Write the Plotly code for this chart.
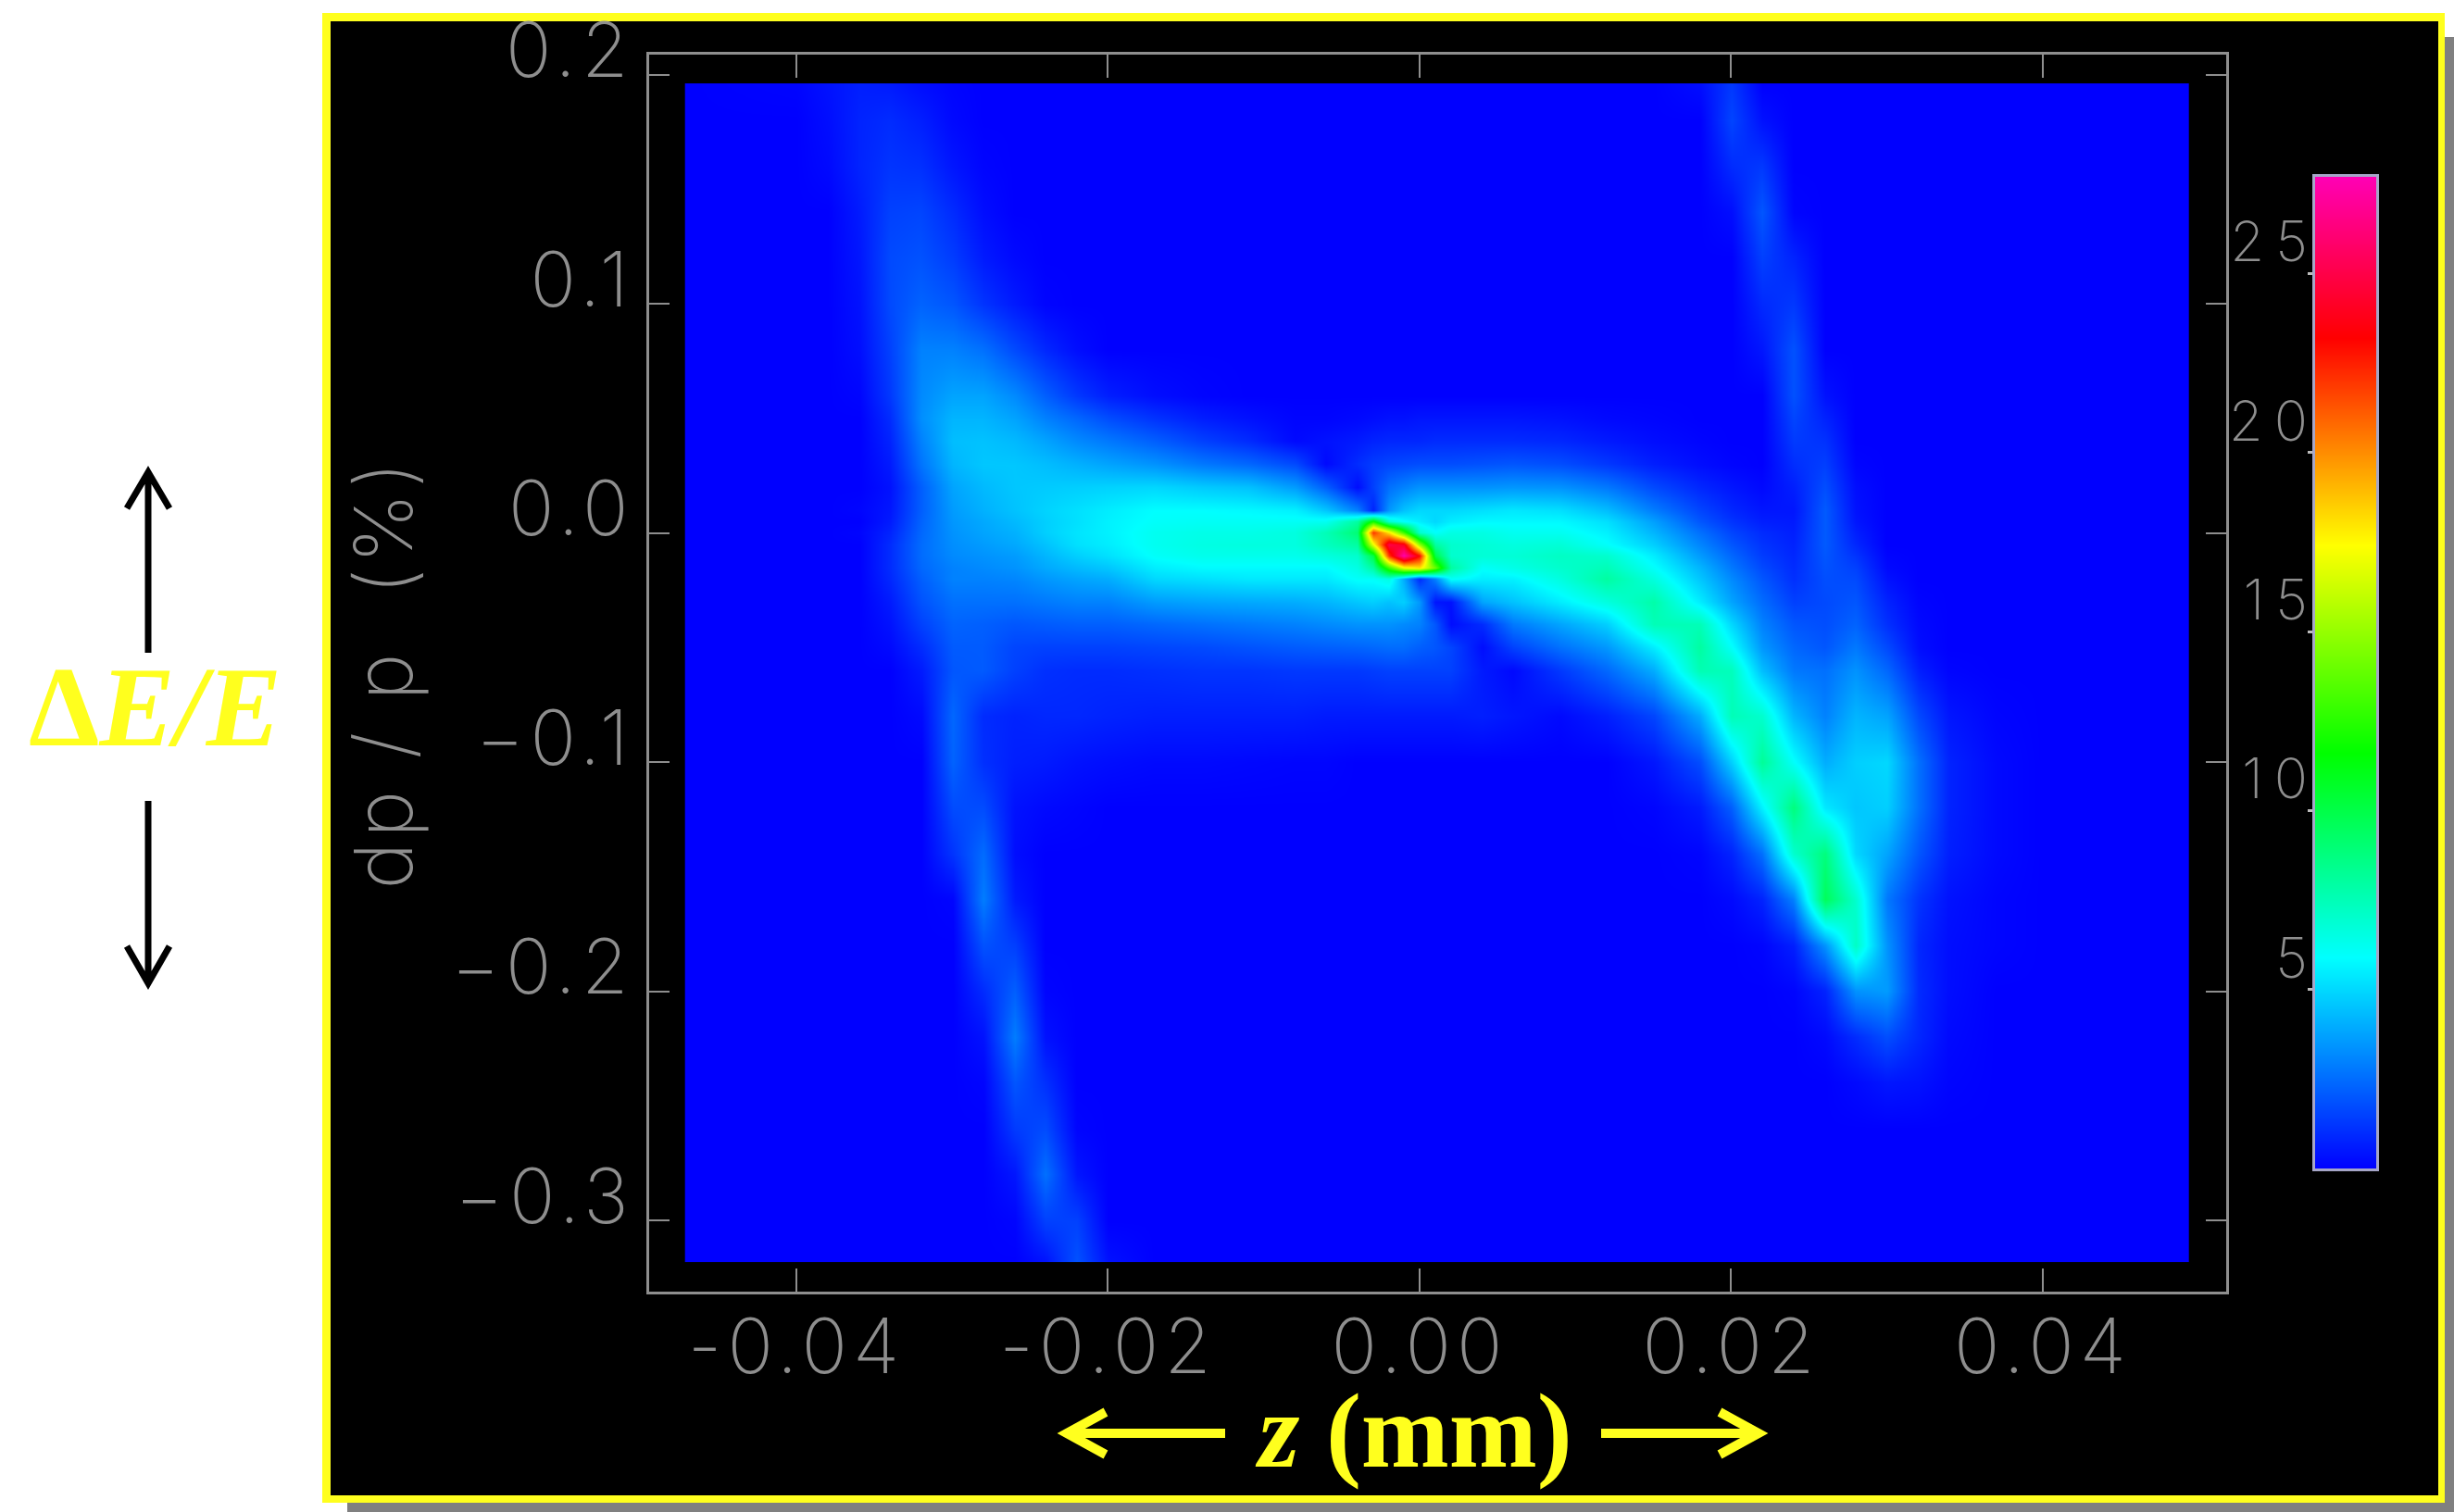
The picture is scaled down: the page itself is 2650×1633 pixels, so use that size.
import plotly.graph_objects as go

W, H = 2650, 1633

# z (mm) of each grid column, dp/p (%) of each grid row: both
Z_MM = [-0.0471, -0.047, -0.040, -0.038, -0.036, -0.034, -0.032, -0.030, -0.028, -0.026, -0.024, -0.022, -0.020,
        -0.017, -0.014, -0.011, -0.008, -0.006, -0.004, -0.003, -0.002, -0.001, 0.0, 0.001, 0.002,
        0.004, 0.006, 0.009, 0.012, 0.015, 0.018, 0.020, 0.022, 0.024, 0.026, 0.028, 0.030, 0.032,
        0.034, 0.037, 0.040, 0.0492, 0.0493]
DP = [0.1961, 0.196, 0.18, 0.16, 0.14, 0.12, 0.10, 0.08, 0.06, 0.05, 0.04, 0.03, 0.02, 0.01, 0.005, 0.0,
      -0.005, -0.01, -0.015, -0.02, -0.03, -0.04, -0.05, -0.06, -0.08, -0.10, -0.12, -0.14,
      -0.16, -0.18, -0.20, -0.22, -0.24, -0.26, -0.28, -0.30, -0.318, -0.3181]

# density estimates by row; {first column index: values} and everything else is 0
R_TOP = {1: [.1, .4, .7, .6, .3, .1], 29: [.3, 1.3]}
R_BOTTOM = {9: [.4, 1.9, .4]}
DENSITY_ROWS = [
    R_TOP,
    R_TOP,
    {2: [.3, .8, 1, .7, .2], 30: [1.6, .4]},
    {2: [.2, .8, 1.2, 1.1, .5, .1], 30: [1, 1.3]},
    {3: [.6, 1.5, 1.6, 1, .3], 30: [.3, 2, .1]},
    {3: [.5, 1.7, 1.9, 1.4, .6, .2], 31: [1.5, .8]},
    {3: [.4, 1.7, 2.3, 2, 1.2, .6, .1], 31: [.95, 1.3]},
    {3: [.3, 1.5, 3, 3, 2.6, 1.7, .9, .3], 31: [.5, 1.9]},
    {3: [.1, 1.3, 3.2, 3.8, 3.8, 3.2, 2.2, 1.3, .7, .3, .1], 32: [1.9, .4]},
    {4: [1, 3.3, 4.2, 4.2, 3.8, 3, 2.4, 1.8, 1.2, .7, .4, .1, .1, .2, .3, .4, .4, .5, .5, .5, .5, .5, .4, .2, .1], 32: [1.6, .8]},
    {4: [.8, 3, 4.4, 4.5, 4.3, 3.8, 3.2, 2.8, 2.2, 1.5, 1, .2, .4, .6, .8, .9, .9, .9, 1, 1, 1, 1, .9, .6, .3, .1], 32: [1.35, 1.15]},
    {4: [.6, 2.7, 4.2, 4.6, 4.6, 4.4, 4.1, 3.8, 3.4, 2.8, 2.4, 1.7, .2, 1, 1.4, 1.6, 1.7, 1.8, 1.8, 1.8, 1.9, 2, 1.8, 1.3, .7, .3, .1], 32: [1.05, 1.45, .1]},
    {4: [.4, 2.2, 3.8, 4.3, 4.6, 4.7, 4.8, 4.9, 5, 4.7, 4.5, 3.6, 2.2, .3, 1.5, 2.6, 3, 3.4, 3.4, 3.4, 3.4, 3.5, 3.4, 2.8, 1.7, .9, .5, .2, .7, 1.8, .3]},
    {3: [.1, .5, 2.2, 3.6, 4.1, 4.5, 4.9, 5.2, 5.5, 5.9, 5.9, 5.8, 5.6, 4.6, 3, .8, 3.5, 4.5, 5, 5, 5, 5.2, 5.4, 5.2, 4.4, 2.9, 1.6, .9, .5, .5, 2.1, .4]},
    {4: [.6, 2.3, 3.5, 3.9, 4.3, 4.8, 5.2, 5.6, 6, 6.1, 6.1, 6.1, 6.2, 8, 12, 7, 6, 5.5, 5, 5.5, 5.8, 5.8, 5.8, 5.2, 3.7, 2, 1.2, .7, .6, 2.1, .5]},
    {3: [.1, .8, 2.4, 3.4, 3.8, 4.1, 4.8, 5.3, 5.6, 6.2, 6.4, 6.4, 6.6, 7.5, 9, 22, 18, 13, 7, 6, 6.5, 6.5, 6.2, 6.2, 5.6, 4.2, 2.6, 1.6, 1, .7, 2.1, .7]},
    {4: [1, 2.5, 3.3, 3.6, 3.9, 4.5, 5.2, 5.5, 6.2, 6.5, 6.6, 6.6, 7.3, 8, 17, 25, 24, 15, 8, 7, 6.8, 6.6, 6.8, 6, 4.8, 3.1, 2, 1.2, .8, 2.1, .9]},
    {4: [1, 2.5, 3.2, 3.4, 3.6, 4.2, 4.8, 5.2, 6, 6.3, 6.3, 6.3, 6.6, 7, 10, 22, 27.5, 23, 10, 7, 6.8, 6.8, 7.2, 7, 5.5, 3.6, 2.4, 1.4, .9, 2, 1.2, .1]},
    {4: [1, 2.4, 3, 3.2, 3.4, 3.9, 4.3, 4.6, 5.5, 5.8, 5.8, 5.8, 5.8, 6.5, 8, 13, 17, 18, 14, 8, 6, 6.4, 7, 7.5, 6, 4.2, 2.8, 1.7, 1, 1.9, 1.5, .2]},
    {4: [.9, 2.2, 3, 3, 3.1, 3.5, 3.8, 4, 5, 5.2, 5.4, 5.4, 5.4, 6, 6, 6.5, 4, 1, 3, 6, 5.5, 5.6, 6.6, 8, 6.6, 4.6, 3.2, 2, 1.1, 1.8, 1.7, .4]},
    {4: [.6, 1.9, 2.6, 2.6, 2.6, 2.8, 3, 3, 3.6, 3.8, 3.9, 4, 4.2, 4.6, 4.8, 4.5, 4.8, 3.5, .5, .4, 3.8, 4.5, 5.5, 6.6, 7.8, 5.5, 3.8, 2.5, 1.5, 1.7, 2, .8, .1]},
    {4: [.4, 1.5, 2.3, 2.2, 2, 2.1, 2.2, 2.2, 2.4, 2.6, 2.8, 3, 3.2, 3.4, 3.4, 3.4, 3.2, 3, 2, .3, 1, 2.8, 3.8, 4.8, 7.5, 7.5, 5, 3, 2, 1.8, 2.3, 1.1, .2]},
    {4: [.2, 1, 2.1, 2.1, 1.6, 1.5, 1.5, 1.5, 1.6, 1.7, 1.9, 2.1, 2.2, 2.3, 2.4, 2.5, 2.5, 2.2, 2, 1.6, .3, 1.5, 2.6, 3.5, 5.5, 8, 6, 3.5, 2.4, 2, 2.8, 1.7, .3]},
    {5: [.6, 2, 2.1, 1.5, 1.1, 1, 1, 1.1, 1.2, 1.2, 1.3, 1.3, 1.3, 1.4, 1.5, 1.5, 1.5, 1.5, 1.5, .6, .2, 1.3, 2.4, 4, 7.6, 7.4, 4.4, 2.8, 2.6, 3.4, 2.4, .7, .1]},
    {5: [.2, 2.4, 1, .8, .9, .9, .8, .7, .7, .7, .7, .6, .6, .6, .6, .6, .6, .6, .6, .7, .5, .2, .7, 1.6, 4, 7.5, 7, 4.2, 3, 4.2, 3.8, 1.7, .5, .1]},
    {6: [2.3, 1.1, .7, .6, .4, .3, .2, .2, .15, .1, .1], 28: [.5, 1.8, 4.8, 8.2, 6, 4, 4.8, 5, 2.6, .8, .2]},
    {6: [1.75, 1.75, .4, .2, .1], 28: [.1, .6, 2.2, 5.6, 8.8, 5.4, 4.6, 4.8, 2.6, .8, .2]},
    {6: [1.2, 2.5, .3], 29: [.1, .8, 2.6, 7, 8.8, 5, 3.8, 2, .7, .2]},
    {6: [.1, 2.9, .6], 30: [.2, .8, 3, 9.6, 7, 2.8, 1.2, .4, .1]},
    {7: [1.9, 1.45], 31: [.1, .7, 3.4, 7.2, 3.4, .9, .3, .1]},
    {7: [1, 2.2, .1], 32: [.1, .8, 3.4, 3.6, 1, .3]},
    {7: [.4, 2.9, .4], 33: [.2, 1, 1.8, .9, .2]},
    {7: [.1, 2, 1.1], 34: [.2, .5, .4, .1]},
    {8: [1.35, 1.75, .1]},
    {8: [.5, 2.6, .5]},
    {8: [.1, 1.5, 1.5]},
    R_BOTTOM,
    R_BOTTOM,
]

COLOR_LEVELS = [0, 5.9, 11.6, 17.4, 23.2, 27.7]
COLORS = ["#0000ff", "#00ffff", "#00ff00", "#ffff00", "#ff0000", "#ff00b4"]
X_TICKS = [-0.04, -0.02, 0.0, 0.02, 0.04]
X_LABELS = ["-0.04", "-0.02", "0.00", "0.02", "0.04"]
Y_TICKS = [0.2, 0.1, 0.0, -0.1, -0.2, -0.3]
Y_LABELS = ["0.2", "0.1", "0.0", "\u22120.1", "\u22120.2", "\u22120.3"]
BAR_TICKS = [5, 10, 15, 20, 25]

GREY = "#8e8e8e"
YEL = "#ffff1e"
FONT = "DejaVu Sans ExtraLight, Inter, Roboto, sans-serif"


def grid(rows, ncols):
    # +1: row indices were read with one leading edge column
    out = []
    for row in rows:
        vals = [0.0] * ncols
        for start, seg in row.items():
            for k, v in enumerate(seg):
                vals[start + 1 + k] = v
        out.append(vals)
    return out


def fx(x):
    return x / W


def fy(y):
    return 1 - y / H


scale = [[v / COLOR_LEVELS[-1], c] for v, c in zip(COLOR_LEVELS, COLORS)]
Z = grid(DENSITY_ROWS, len(Z_MM))

fig = go.Figure()
fig.add_trace(go.Heatmap(x=Z_MM, y=DP[::-1], z=Z[::-1], colorscale=scale, zmin=0, zmax=COLOR_LEVELS[-1],
                         zsmooth="best", showscale=False))
fig.add_trace(go.Heatmap(x=[0, 1], y=COLOR_LEVELS, z=[[v, v] for v in COLOR_LEVELS], colorscale=scale,
                         zmin=0, zmax=COLOR_LEVELS[-1], zsmooth="best", showscale=False, xaxis="x2", yaxis="y2"))


def rect(x0, y0, x1, y1, color):
    return dict(type="rect", xref="paper", yref="paper", x0=fx(x0), x1=fx(x1), y0=fy(y0), y1=fy(y1),
                fillcolor=color, line=dict(width=0), layer="below")


def arrow_path(tail, tip, wing_a, wing_b, color, width):
    d = (f"M{fx(tail[0])},{fy(tail[1])} L{fx(tip[0])},{fy(tip[1])} "
         f"M{fx(wing_a[0])},{fy(wing_a[1])} L{fx(tip[0])},{fy(tip[1])} L{fx(wing_b[0])},{fy(wing_b[1])}")
    return dict(type="path", xref="paper", yref="paper", path=d, line=dict(color=color, width=width))


shapes = [
    rect(375, 40, 2650, 1633, "#808080"),
    rect(348, 14, 2640, 1623, YEL),
    rect(357, 23, 2633, 1615, "#000000"),
    arrow_path((160, 705), (160, 510), (137, 549), (183, 549), "#000000", 7),
    arrow_path((160, 865), (160, 1062), (137, 1022), (183, 1022), "#000000", 7),
    arrow_path((1323, 1548), (1152, 1548), (1194, 1525), (1194, 1571), YEL, 10),
    arrow_path((1729, 1548), (1899, 1548), (1857, 1525), (1857, 1571), YEL, 10),
]

axis_common = dict(showgrid=False, zeroline=False, showline=True, linecolor=GREY, linewidth=3,
                   mirror="allticks", ticks="inside", tickcolor=GREY, tickwidth=2, ticklabeloverflow="allow")

fig.update_layout(
    width=W, height=H, margin=dict(l=0, r=0, t=0, b=0, autoexpand=False),
    paper_bgcolor="#ffffff", plot_bgcolor="rgba(0,0,0,0)", showlegend=False, shapes=shapes,
    xaxis=dict(domain=[fx(701), fx(2404)], range=[-0.04945, 0.05177], anchor="y", tickmode="array",
               tickvals=X_TICKS, ticktext=X_LABELS, ticklen=25, ticklabelstandoff=0,
               tickfont=dict(family=FONT, size=82, color=GREY, weight=200), **axis_common),
    yaxis=dict(domain=[fy(1395), fy(59)], range=[-0.3311, 0.2087], anchor="x", tickmode="array",
               tickvals=Y_TICKS, ticktext=Y_LABELS, ticklen=22, ticklabelshift=-26,
               ticklabelstandoff=2, tickfont=dict(family=FONT, size=82, color=GREY, weight=200),
               title=dict(text="dp\u00a0/\u00a0p\u00a0\u00a0(%)", standoff=32,
                          font=dict(family=FONT, size=86, color=GREY, weight=200)), **axis_common),
    xaxis2=dict(domain=[fx(2500), fx(2566)], range=[0, 1], anchor="y2", showticklabels=False, ticks="",
                showgrid=False, zeroline=False, showline=True, mirror=True, linecolor="#a6a6c8", linewidth=3),
    yaxis2=dict(domain=[fy(1262), fy(191)], range=[0, COLOR_LEVELS[-1]], anchor="x2", side="left",
                tickmode="array", tickvals=BAR_TICKS, ticks="outside", ticklen=5, tickwidth=3, tickcolor="#bbbbbb",
                ticklabelshift=-34, ticklabelstandoff=0, showgrid=False, zeroline=False,
                showline=True, mirror=True, linecolor="#a6a6c8", linewidth=3, ticklabeloverflow="allow",
                tickfont=dict(family=FONT, size=60, color=GREY, weight=200)),
    annotations=[
        dict(xref="paper", yref="paper", x=fx(168), y=fy(763), text="<b>\u0394<i>E/E</i></b>", showarrow=False,
             xanchor="center", yanchor="middle", font=dict(family="Liberation Serif", size=122, color=YEL)),
        dict(xref="paper", yref="paper", x=fx(1526), y=fy(1545), text="<b><i>z</i> (mm)</b>", showarrow=False,
             xanchor="center", yanchor="middle", font=dict(family="Liberation Serif", size=114, color=YEL)),
    ],
)

POST = """
document.body.style.margin = '0';
var s = document.createElement('style');
s.textContent = '.xtick text,.ytick text{letter-spacing:6px} .y2tick text{letter-spacing:12px} .ytitle{letter-spacing:5px}';
document.head.appendChild(s);
document.querySelectorAll('.y2tick text').forEach(function(t){t.setAttribute('dx','24');});
document.querySelectorAll('.ytick text').forEach(function(t){t.setAttribute('dx','5');});
document.querySelectorAll('.xtick text').forEach(function(t){t.setAttribute('dy','-13');});
"""
fig.write_html("out.html", post_script=POST, config={"displayModeBar": False})
